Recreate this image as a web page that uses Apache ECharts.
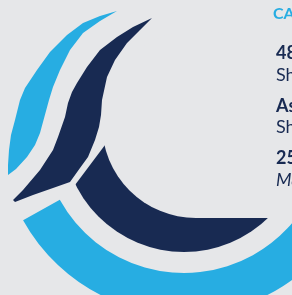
<!DOCTYPE html>
<html>
<head>
<meta charset="utf-8">
<script src="https://cdn.jsdelivr.net/npm/echarts@6/dist/echarts.min.js"></script>
<style>
  html, body { margin: 0; padding: 0; background: #e6e7e9; }
  #chart { width: 292px; height: 295px; }
</style>
</head>
<body>
<div id="chart"></div>
<script>
// logo geometry, in picture pixels (x right, y down)
// arcs: centre x, centre y, inner radius, outer radius, start deg, end deg
const ringArc = [184, 131, 142, 184, -10, 151];
const crescentArc = [184, 131, 0, 121, 0, 180];
const crescentHole = [196, 124, 94];
const crescentFlat = [[196, 90], [300, 90], [300, 218], [196, 218]];
const crescentCut = [[54, 213], [75, 185], [105, 145], [118, 127], [40, 127], [40, 213]];

const lightSwoosh = [
  [117, 11], [100, 21], [83, 33], [70, 50], [60, 70], [53, 87], [49, 100],
  [46, 111], [43, 122], [40, 133], [35, 145], [27, 157], [16, 169], [8, 175],
  [8, 165], [9, 150], [11, 135], [15, 120], [20, 100], [25, 88], [37, 70],
  [50, 52], [67, 35], [83, 23], [100, 16]
];

const navySwoosh = [
  [152, 18], [140, 30], [127, 43], [115, 60], [107, 77], [102, 100], [101, 115],
  [99, 127], [95, 140], [88, 157], [80, 168], [70, 182], [53, 188], [33, 195],
  [15, 202], [13, 200], [23, 190], [40, 170], [53, 150], [58, 137], [65, 117],
  [68, 103], [72, 92], [77, 83], [87, 67], [100, 50], [117, 37], [133, 27]
];

const headLine = 'CAMPUSES';
const boldLines = ['48 Shore Street', 'Ashton Park', '25 Mill Lane'];
const plainLines = ['Shoreham', 'Sheffield', 'Manchester'];

const LIGHT = '#27ade2';
const NAVY = '#182a52';
const BG = '#e6e7e9';

function sectorSeries (arc, color) {
  return {
    type: 'custom',
    silent: true,
    animation: false,
    data: [arc],
    renderItem: function (params, api) {
      const c = api.coord([api.value(0), api.value(1)]);
      const k = api.size([1, 1])[0];
      return {
        type: 'sector',
        shape: {
          cx: c[0],
          cy: c[1],
          r0: api.value(2) * k,
          r: api.value(3) * k,
          startAngle: api.value(4) * Math.PI / 180,
          endAngle: api.value(5) * Math.PI / 180,
          clockwise: true
        },
        style: { fill: color }
      };
    }
  };
}

function circleSeries (circle, color) {
  return {
    type: 'custom',
    silent: true,
    animation: false,
    data: [circle],
    renderItem: function (params, api) {
      const c = api.coord([api.value(0), api.value(1)]);
      const k = api.size([1, 1])[0];
      return {
        type: 'circle',
        shape: { cx: c[0], cy: c[1], r: api.value(2) * k },
        style: { fill: color }
      };
    }
  };
}

function polygonSeries (points, color) {
  return {
    type: 'custom',
    silent: true,
    animation: false,
    data: points,
    renderItem: function (params, api) {
      if (params.dataIndex !== 0) {
        return;
      }
      return {
        type: 'polygon',
        shape: { points: points.map(p => api.coord(p)) },
        style: { fill: color }
      };
    }
  };
}

function textItem (text, x, y, font, color) {
  return {
    type: 'text',
    z: 100,
    x: x,
    y: y,
    style: { text: text, font: font, fill: color, verticalAlign: 'middle' }
  };
}

const texts = [textItem(headLine, 273, 14, 'bold 16px Lato', LIGHT)];
boldLines.forEach((t, i) => {
  texts.push(textItem(t, 276, 53.5 + i * 52.5, 'bold 18px Lato', NAVY));
  texts.push(textItem(plainLines[i], 276, 75 + i * 52.5,
    i === 2 ? 'italic 18px Lato' : '18px Lato', NAVY));
});

const chart = echarts.init(document.getElementById('chart'));
chart.setOption({
  backgroundColor: BG,
  animation: false,
  grid: { left: 0, right: 0, top: 0, bottom: 0 },
  xAxis: { type: 'value', min: 0, max: 292, show: false },
  yAxis: { type: 'value', min: 0, max: 295, inverse: true, show: false },
  graphic: texts,
  series: [
    sectorSeries(crescentArc, NAVY),
    circleSeries(crescentHole, BG),
    polygonSeries(crescentFlat, BG),
    polygonSeries(crescentCut, BG),
    sectorSeries(ringArc, LIGHT),
    polygonSeries(lightSwoosh, LIGHT),
    polygonSeries(navySwoosh, NAVY)
  ]
});
</script>
</body>
</html>
